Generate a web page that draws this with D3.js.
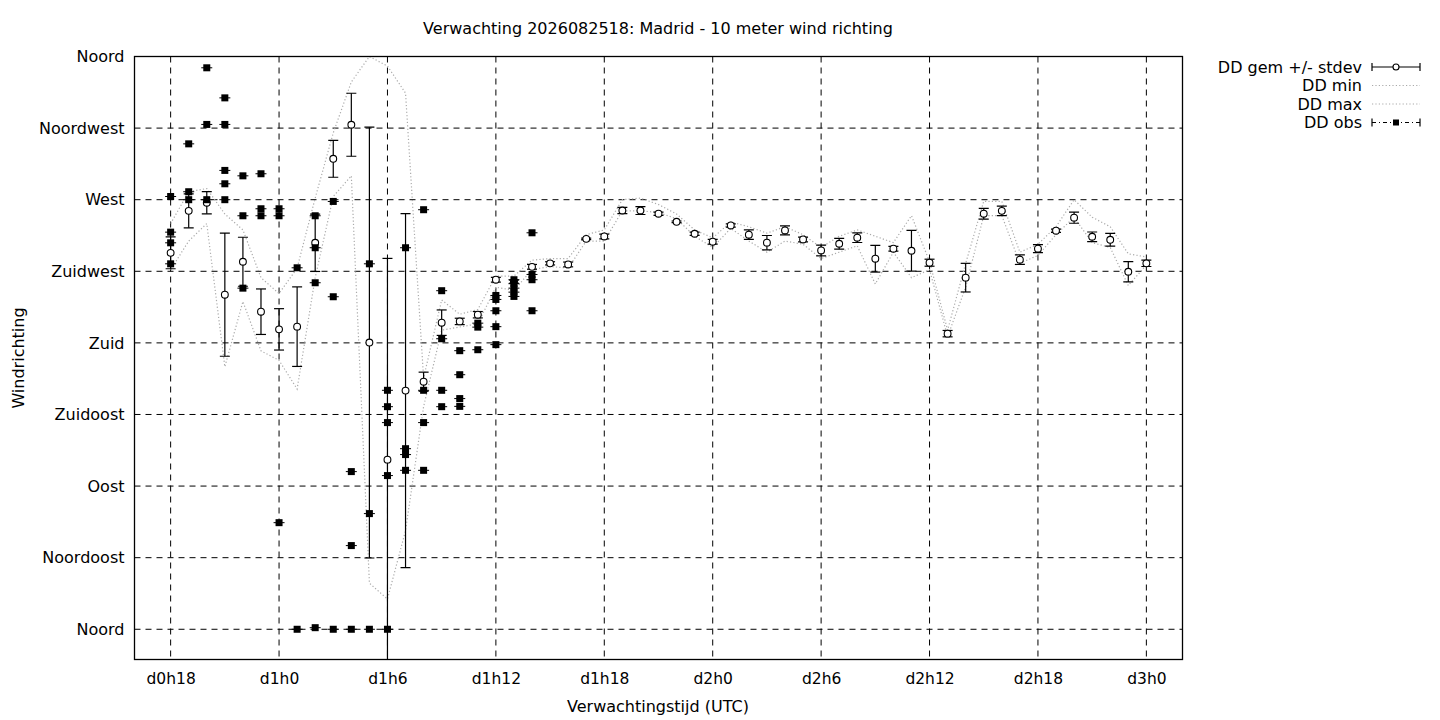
<!DOCTYPE html>
<html lang="nl">
<head>
    <meta charset="UTF-8">
    <title>Windrichting Madrid</title>
    <script src="https://cdn.jsdelivr.net/npm/d3@7"></script>
    <style>
        body{
            margin: 0;
            background-color: white;
        }
        svg text{
            font-family: "DejaVu Sans", sans-serif;
            fill: black;
        }
        .grid line{
            stroke: black;
            stroke-width: 1;
            stroke-dasharray: 6,5;
        }
        .minmax{
            fill: none;
            stroke: #aaaaaa;
            stroke-width: 1.2;
            stroke-dasharray: 1.2,2.2;
        }
    </style>
</head>
<body>
<svg id="canvas" width="1440" height="720"></svg>
<script>
    // forecast hours (x)
    let hours = [18,19,20,21,22,23,24,25,26,27,28,29,30,31,32,33,34,35,36,37,38,39,40,41,42,43,44,45,
                 46,47,48,49,50,51,52,53,54,55,56,57,58,59,60,61,62,63,64,65,66,67,68,69,70,71,72];
    // ensemble mean direction (degrees)
    let ddMean = [236.6,263.0,268.1,210.3,231.0,199.6,188.5,190.2,242.9,295.7,317.1,180.2,106.6,150.0,155.6,192.7,193.5,197.7,219.7,218.5,
                  227.8,230.0,229.3,245.4,246.9,263.2,263.2,261.2,256.1,248.6,243.6,253.8,248.0,243.0,250.7,245.0,238.1,242.3,246.1,232.9,
                  239.2,237.9,230.4,185.8,221.0,261.2,263.0,232.3,239.2,250.5,258.7,246.7,244.8,224.7,230.0];
    // standard deviation
    let ddStdev = [10,10.7,7,38.7,15.4,14.3,13,25,18,11.6,19.8,135.4,126.5,111.2,6,8,2,2,1.5,1,
                   1.5,1,1.5,0.5,1.5,2,2.5,1,0.5,1,1.5,1,3,4.5,2.8,1.5,3.4,3.4,3,8.4,
                   1.5,12.8,2.2,2,9,3.4,3,3,2.5,1,3.5,3,4,6.4,2];
    // ensemble minimum
    let ddMin = [226,244,255,165,206,175,169,151,221,272,285,29,19,62,140,188,190,192,215,213,
                 226,228,227,244,244,263,263,262,258,247,240,252,244,237,244,242,233,237,241,217,
                 237,221,226,184,215,260,260,230,235,248,259,243,240,216,229];
    // ensemble maximum
    let ddMax = [255,275,277,261,251,221,211,227,271,312,344,360,354,337,158,207,198,201,222,222,
                 232,233,233,248,251,270,271,267,261,251,246,256,253,249,253,248,240,247,251,247,
                 243,260,231,188,230,269,269,237,242,253,270,259,253,236,234];
    // observations
    let obsHours = [18,18,18,18,19,19,19,20,20,20,21,21,21,21,21,22,22,22,23,23,23,24,24,24,25,25,
                    26,26,26,26,27,27,27,28,28,28,29,29,29,30,30,30,30,30,31,31,31,31,32,32,32,32,
                    33,33,33,33,34,34,34,34,35,35,35,36,36,36,36,36,37,37,37,37,37,38,38,38,38];
    let obsDir = [272.0,249.6,242.9,229.7,305.1,275.0,270.0,352.9,317.3,270.0,334.0,317.3,288.4,280.0,270.0,285.0,259.9,214.4,286.3,264.3,259.9,264.3,259.9,67.0,227.2,0,
                  259.9,239.8,217.8,1.0,268.9,209.0,0,99.1,52.6,0,229.7,72.7,0,150.2,139.9,129.9,96.6,0,239.8,113.5,109.8,99.9,263.7,150.2,129.9,99.9,
                  212.8,182.6,150.2,139.9,175.1,160.0,145.0,140.1,192.4,189.9,175.7,209.8,207.3,200.2,190.2,178.9,219.7,217.2,214.4,211.9,209.2,249.2,223.0,219.7,200.2];
    // axes
    let xTickHours = [18,24,30,36,42,48,54,60,66,72];
    let xTickLabels = ["d0h18","d1h0","d1h6","d1h12","d1h18","d2h0","d2h6","d2h12","d2h18","d3h0"];
    let yTickValues = [0,45,90,135,180,225,270,315,360];
    let yTickLabels = ["Noord","Noordoost","Oost","Zuidoost","Zuid","Zuidwest","West","Noordwest","Noord"];

    let svg = d3.select('svg');
    let pLeft = 134.5, pRight = 1182.5, pTop = 56.5, pBottom = 659.5;

    let x = d3.scaleLinear().domain([16, 74]).range([pLeft, pRight]);
    let y = d3.scaleLinear().domain([-19, 360]).range([pBottom, pTop]);

    svg.append('clipPath').attr('id', 'plotclip')
        .append('rect').attr('x', pLeft).attr('y', pTop).attr('width', pRight - pLeft).attr('height', pBottom - pTop);

    // grid
    let grid = svg.append('g').attr('class', 'grid');
    grid.selectAll('line.gx').data(xTickHours).enter().append('line').attr('class', 'gx')
        .attr('x1', d => x(d)).attr('x2', d => x(d)).attr('y1', pTop).attr('y2', pBottom);
    grid.selectAll('line.gy').data(yTickValues).enter().append('line').attr('class', 'gy')
        .attr('y1', d => y(d)).attr('y2', d => y(d)).attr('x1', pLeft).attr('x2', pRight);

    // axes (labels only, gnuplot style border)
    svg.append('g')
        .attr('transform', 'translate(' + pLeft + ',0)')
        .call(d3.axisLeft(y).tickValues(yTickValues).tickSize(0).tickPadding(10)
            .tickFormat((d, i) => yTickLabels[i]))
        .call(g => g.select('.domain').remove())
        .selectAll('text').style('font-size', '16px');
    svg.append('g')
        .attr('transform', 'translate(0,' + pBottom + ')')
        .call(d3.axisBottom(x).tickValues(xTickHours).tickSize(0).tickPadding(13)
            .tickFormat((d, i) => xTickLabels[i]))
        .call(g => g.select('.domain').remove())
        .selectAll('text').style('font-size', '15.5px');

    let plot = svg.append('g').attr('clip-path', 'url(#plotclip)');

    // min / max lines
    let lineHour = d3.line().x((d, i) => x(hours[i])).y(d => y(d));
    plot.append('path').attr('class', 'minmax').attr('d', lineHour(ddMin));
    plot.append('path').attr('class', 'minmax').attr('d', lineHour(ddMax));

    // mean +/- stdev
    let bars = plot.selectAll('g.bar').data(hours).enter().append('g').attr('class', 'bar');
    bars.append('line')
        .attr('x1', d => x(d)).attr('x2', d => x(d))
        .attr('y1', (d, i) => y(ddMean[i] - ddStdev[i])).attr('y2', (d, i) => y(ddMean[i] + ddStdev[i]))
        .attr('stroke', 'black').attr('stroke-width', 1.2);
    [-1, 1].forEach(sign => {
        bars.append('line')
            .attr('x1', d => x(d) - 5).attr('x2', d => x(d) + 5)
            .attr('y1', (d, i) => y(ddMean[i] + sign * ddStdev[i]))
            .attr('y2', (d, i) => y(ddMean[i] + sign * ddStdev[i]))
            .attr('stroke', 'black').attr('stroke-width', 1.2);
    });
    bars.append('circle')
        .attr('cx', d => x(d)).attr('cy', (d, i) => y(ddMean[i])).attr('r', 3.4)
        .attr('fill', 'white').attr('stroke', 'black').attr('stroke-width', 1.1);

    // observations
    let obs = plot.selectAll('g.obs').data(obsHours).enter().append('g').attr('class', 'obs');
    obs.append('line')
        .attr('x1', d => x(d) - 5.5).attr('x2', d => x(d) + 5.5)
        .attr('y1', (d, i) => y(obsDir[i])).attr('y2', (d, i) => y(obsDir[i]))
        .attr('stroke', 'black').attr('stroke-width', 1);
    obs.append('rect')
        .attr('x', d => x(d) - 3.5).attr('y', (d, i) => y(obsDir[i]) - 3.5)
        .attr('width', 7).attr('height', 7).attr('fill', 'black');

    // border
    svg.append('rect').attr('x', pLeft).attr('y', pTop).attr('width', pRight - pLeft).attr('height', pBottom - pTop)
        .attr('fill', 'none').attr('stroke', 'black').attr('stroke-width', 1.3);

    // titles
    svg.append('text').attr('x', 658).attr('y', 34).attr('text-anchor', 'middle').style('font-size', '16px')
        .text('Verwachting 2026082518: Madrid - 10 meter wind richting');
    svg.append('text').attr('x', 658).attr('y', 712).attr('text-anchor', 'middle').style('font-size', '16px')
        .text('Verwachtingstijd (UTC)');
    svg.append('text').attr('transform', 'translate(24,358) rotate(-90)').attr('text-anchor', 'middle')
        .style('font-size', '16px').text('Windrichting');

    // legend
    let legendItems = ["DD gem +/- stdev", "DD min", "DD max", "DD obs"];
    let legendY = [67, 85.5, 104, 122.5];
    let lx1 = 1372, lx2 = 1420, lxm = 1396;
    let legend = svg.append('g');
    legend.selectAll('text').data(legendItems).enter().append('text')
        .attr('x', 1362).attr('y', (d, i) => legendY[i] + 5.5).attr('text-anchor', 'end')
        .style('font-size', '16px').text(d => d);
    // row 1: errorbar sample
    legend.append('line').attr('x1', lx1).attr('x2', lx2).attr('y1', legendY[0]).attr('y2', legendY[0])
        .attr('stroke', 'black').attr('stroke-width', 1.2);
    [lx1, lx2].forEach(px => legend.append('line').attr('x1', px).attr('x2', px)
        .attr('y1', legendY[0] - 4).attr('y2', legendY[0] + 4).attr('stroke', 'black').attr('stroke-width', 1.2));
    legend.append('circle').attr('cx', lxm).attr('cy', legendY[0]).attr('r', 3)
        .attr('fill', 'white').attr('stroke', 'black').attr('stroke-width', 1.1);
    // rows 2,3: dotted
    [1, 2].forEach(k => legend.append('line').attr('class', 'minmax')
        .attr('x1', lx1).attr('x2', lx2).attr('y1', legendY[k]).attr('y2', legendY[k]));
    // row 4: obs sample
    legend.append('line').attr('x1', lx1).attr('x2', lx2).attr('y1', legendY[3]).attr('y2', legendY[3])
        .attr('stroke', 'black').attr('stroke-width', 1).attr('stroke-dasharray', '4,3,1,3');
    [lx1, lx2].forEach(px => legend.append('line').attr('x1', px).attr('x2', px)
        .attr('y1', legendY[3] - 4).attr('y2', legendY[3] + 4).attr('stroke', 'black').attr('stroke-width', 1.2));
    legend.append('rect').attr('x', lxm - 3).attr('y', legendY[3] - 3).attr('width', 6).attr('height', 6)
        .attr('fill', 'black');
</script>
</body>
</html>
